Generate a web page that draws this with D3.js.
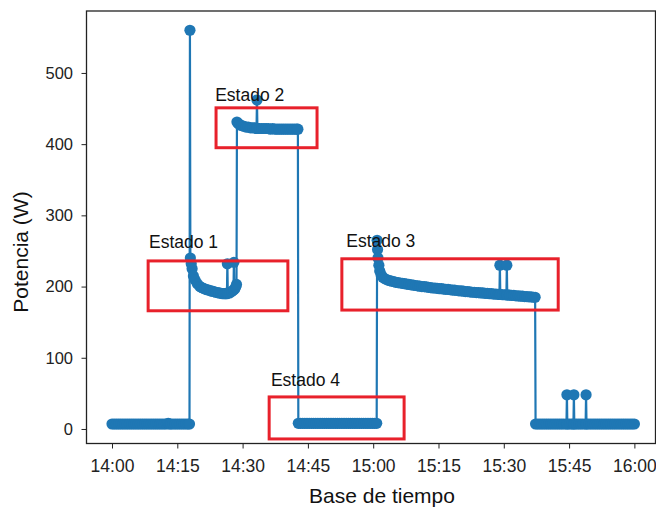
<!DOCTYPE html>
<html>
<head>
<meta charset="utf-8">
<script src="https://cdn.jsdelivr.net/npm/d3@7"></script>
<style>
  body { margin: 0; background: #fff; }
  svg { display: block; font-family: "Liberation Sans", Arial, sans-serif; }
  .tick line { stroke: #222; }
  .tick text { fill: #222; }
</style>
</head>
<body>
<script>
// readings as [minutes after 14:00, watts], split by operating segment
var lowStart = [[0,7],[0.5,7],[1,7],[1.5,7],[2,7],[2.5,7],[3,7],[3.5,7],[4,7],[4.5,7],[5,7],[5.5,7],
  [6,7],[6.5,7],[7,7],[7.5,7],[8,7],[8.5,7],[9,7],[9.5,7],[10,7],[10.5,7],[11,7],[11.5,7],[12,7],
  [12.5,7],[12.9,8],[13.2,7],[13.5,7],[14,7],[14.5,7],[15,7],[15.5,7],[16,7],[16.5,7],[17,7],[17.5,7],[17.8,7]];

var state1 = [[17.9,560],[18.0,240],[18.2,232],[18.4,225],[18.7,215],[19.1,209],[19.6,204],[20.2,200],
  [20.6,198.5],[21.0,197.5],[21.4,196.5],[21.8,195.5],[22.2,195],[22.6,194],[23,193.5],[23.4,193],
  [23.8,192],[24.2,191.5],[24.6,191],[25,190.5],[25.4,190],[25.8,190],[26.1,190],[26.4,190],
  [26.5,232],[26.6,191],[27,191],[27.5,193],[27.9,195],[28.0,234],[28.1,196],[28.4,199],[28.6,203]];

var state2 = [[28.7,431],[29,429],[29.4,427],[29.8,426],[30.3,425],[30.8,424],[31.3,424],[31.8,423],
  [32.3,423],[32.8,423],[33.2,422],[33.3,462],[33.4,422],[33.9,422],[34.4,422],[34.9,422],[35.4,422],
  [35.9,422],[36.4,421],[36.9,422],[37.4,421],[37.9,421],[38.4,421],[38.9,421],[39.4,421],[39.9,421],
  [40.4,421],[40.9,421],[41.4,421],[41.9,421],[42.4,421],[42.7,421]];

var state4 = [[42.8,8],[43.3,8],[43.8,8],[44.3,8],[44.8,8],[45.3,8],[45.8,8],[46.3,8],[46.8,8],[47.3,8],
  [47.8,8],[48.3,8],[48.8,8],[49.3,8],[49.8,8],[50.3,8],[50.8,8],[51.3,8],[51.8,8],[52.3,8],[52.8,8],
  [53.3,8],[53.8,8],[54.3,8],[54.8,8],[55.3,8],[55.8,8],[56.3,8],[56.8,8],[57.3,8],[57.8,8],[58.3,8],
  [58.8,8],[59.3,8],[59.8,8],[60.3,8],[60.8,8]];

var state3 = [[60.9,265],[61.0,252],[61.1,240],[61.3,230],[61.5,222],[61.8,217],[62.2,213],[62.7,211],
  [63.2,209.5],[63.7,208.5],[64.2,207.5],[64.7,207],[65.2,206],[65.7,205.5],[66.2,205],[66.7,204.5],
  [67.2,204],[67.7,203.5],[68.2,203],[68.7,202.5],[69.2,202],[69.7,201.5],[70.2,201],[70.7,200.5],
  [71.2,200],[71.7,200],[72.2,199.5],[72.7,199],[73.2,198.5],[73.7,198],[74.2,198],[74.7,197.5],
  [75.2,197],[75.7,197],[76.2,196.5],[76.7,196],[77.2,196],[77.7,195.5],[78.2,195],[78.7,195],
  [79.2,194.5],[79.7,194],[80.2,194],[80.7,193.5],[81.2,193],[81.7,193],[82.2,192.5],[82.7,192],
  [83.2,192],[83.7,191.5],[84.2,191.5],[84.7,191],[85.2,191],[85.7,190.5],[86.2,190.5],[86.7,190],
  [87.2,190],[87.7,189.5],[88.2,189.5],[88.7,189],[89.0,189],[89.1,230],[89.2,189],[89.7,188.5],
  [90.2,188.5],[90.6,188.5],[90.7,230],[90.8,188],[91.3,188],[91.8,187.5],[92.3,187.5],[92.8,187],
  [93.3,187],[93.8,186.5],[94.3,186.5],[94.8,186],[95.3,186],[95.8,185.5],[96.3,185.5],[96.8,185],[97.2,185]];

var lowEnd = [[97.3,7],[97.8,7],[98.3,7],[98.8,7],[99.3,7],[99.8,7],[100.3,7],[100.8,7],[101.3,7],
  [101.8,7],[102.3,7],[102.8,7],[103.3,7],[103.8,7],[104.4,7],[104.5,48],[104.6,7],[105.1,7],[105.6,7],
  [106.0,7],[106.1,48],[106.2,7],[106.7,7],[107.2,7],[107.7,7],[108.2,7],[108.8,7],[108.9,48],[109.0,7],
  [109.5,7],[110,7],[110.5,7],[111,7],[111.5,7],[112,7],[112.5,7],[113,7],[113.5,7],[114,7],[114.5,7],
  [115,7],[115.5,7],[116,7],[116.5,7],[117,7],[117.5,7],[118,7],[118.5,7],[119,7],[119.5,7],[120,7]];

var yTicks = [0, 100, 200, 300, 400, 500];

// annotated states: box [min0, min1, w0, w1], label anchor (minute, watts)
var stateNames = ["Estado 1", "Estado 2", "Estado 3", "Estado 4"];
var stateBoxes = [[8.3, 40.4, 166, 236], [23.9, 47.1, 395, 451], [52.8, 102.5, 167, 239], [36.1, 67.1, -14, 45]];
var stateLabels = [[8.5, 254], [23.7, 461], [53.8, 256], [36.5, 60]];

var width = 656, height = 510;
var plotLeft = 86.5, plotTop = 11, plotRight = 655.5, plotBottom = 443.5;

var base = new Date(2021, 0, 1, 14, 0, 0);
function at(m){ return new Date(base.getTime() + m * 60000); }

var readings = lowStart.concat(state1, state2, state4, state3, lowEnd);

var x = d3.scaleTime()
    .domain([at(-5.86), at(124.85)])
    .range([plotLeft, plotRight]);

var y = d3.scaleLinear()
    .domain([-20.4, 587])
    .range([plotBottom, plotTop]);

var svg = d3.select("body")
    .append("svg")
    .attr("width", width)
    .attr("height", height);

//x axis
var xAxis = svg.append("g")
    .attr("transform", "translate(0," + plotBottom + ")")
    .call(d3.axisBottom(x)
        .ticks(d3.timeMinute.every(15))
        .tickFormat(d3.timeFormat("%H:%M"))
        .tickSize(5)
        .tickPadding(11.5));
xAxis.select(".domain").remove();
xAxis.selectAll("text").style("font-size", "17.5px");

//y axis
var yAxis = svg.append("g")
    .attr("transform", "translate(" + plotLeft + ",0)")
    .call(d3.axisLeft(y)
        .tickValues(yTicks)
        .tickSize(5)
        .tickPadding(8.5));
yAxis.select(".domain").remove();
yAxis.selectAll("text").style("font-size", "16.5px");

var plot = svg.append("g");

//power line with markers
var line = d3.line()
    .x(function(d){ return x(at(d[0])); })
    .y(function(d){ return y(d[1]); });

plot.append("path")
    .datum(readings)
    .attr("d", line)
    .attr("fill", "none")
    .attr("stroke", "#1f77b4")
    .attr("stroke-width", 2.2)
    .attr("stroke-linejoin", "round");

plot.selectAll(".dot")
    .data(readings)
    .enter()
    .append("circle")
    .attr("class", "dot")
    .attr("cx", function(d){ return x(at(d[0])); })
    .attr("cy", function(d){ return y(d[1]); })
    .attr("r", 5.6)
    .attr("fill", "#1f77b4");

//frame
svg.append("rect")
    .attr("x", plotLeft)
    .attr("y", plotTop)
    .attr("width", plotRight - plotLeft)
    .attr("height", plotBottom - plotTop)
    .attr("fill", "none")
    .attr("stroke", "#222")
    .attr("stroke-width", 1.3);

//state boxes
svg.selectAll(".stateBox")
    .data(stateBoxes)
    .enter()
    .append("rect")
    .attr("class", "stateBox")
    .attr("x", function(d){ return x(at(d[0])); })
    .attr("y", function(d){ return y(d[3]); })
    .attr("width", function(d){ return x(at(d[1])) - x(at(d[0])); })
    .attr("height", function(d){ return y(d[2]) - y(d[3]); })
    .attr("fill", "none")
    .attr("stroke", "#e8212b")
    .attr("stroke-width", 3);

svg.selectAll(".stateLabel")
    .data(stateLabels)
    .enter()
    .append("text")
    .attr("class", "stateLabel")
    .attr("x", function(d){ return x(at(d[0])); })
    .attr("y", function(d){ return y(d[1]); })
    .style("font-size", "17.5px")
    .attr("fill", "#111")
    .text(function(d, i){ return stateNames[i]; });

//axis titles
svg.append("text")
    .attr("x", 382)
    .attr("y", 503)
    .attr("text-anchor", "middle")
    .style("font-size", "21px")
    .attr("fill", "#111")
    .text("Base de tiempo");

svg.append("text")
    .attr("transform", "translate(28,252) rotate(-90)")
    .attr("text-anchor", "middle")
    .style("font-size", "21px")
    .attr("fill", "#111")
    .text("Potencia (W)");
</script>
</body>
</html>
